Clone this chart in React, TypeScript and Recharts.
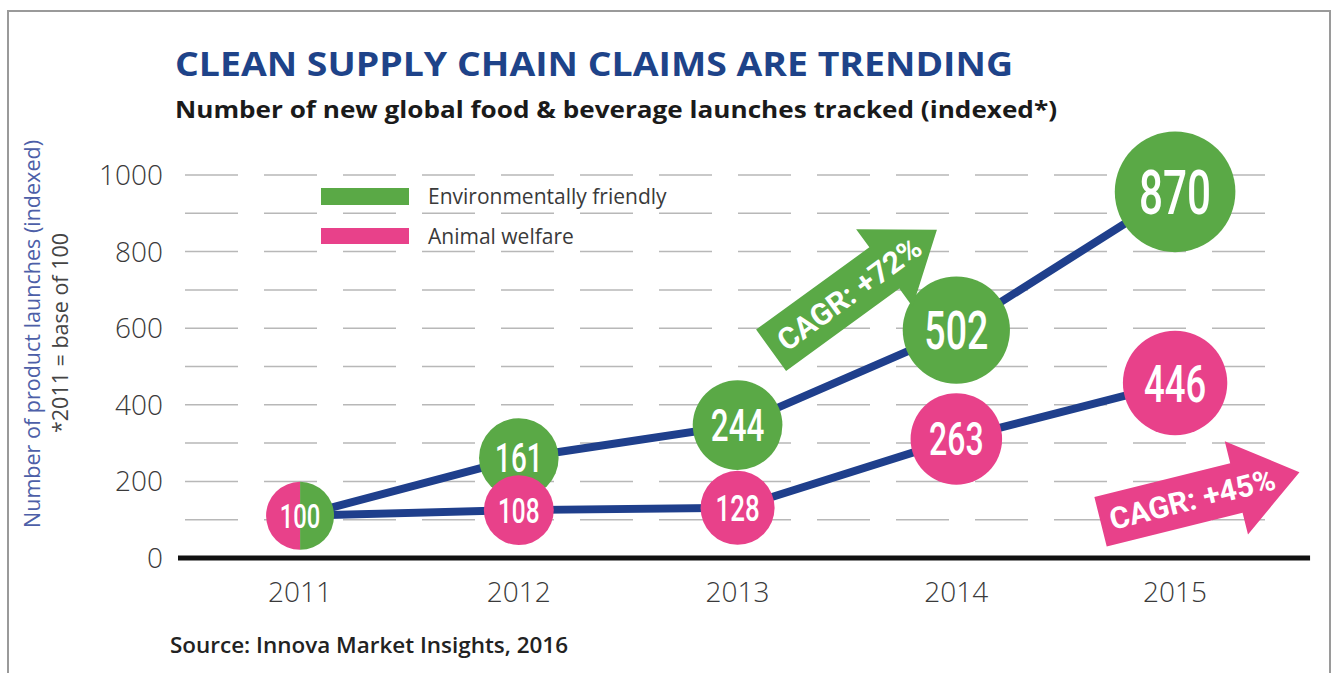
import React from 'react';
import { ComposedChart, Line, Scatter, XAxis, YAxis, CartesianGrid, ReferenceLine } from 'recharts';

// years on the x axis
const years = [2011, 2012, 2013, 2014, 2015];
const yearLabels = ['2011', '2012', '2013', '2014', '2015'];

// numbers printed in the bubbles
const envLabels = [100, 161, 244, 502, 870];
const animalLabels = [100, 108, 128, 263, 446];

// where the bubbles sit (the infographic is not drawn to scale)
const envPlotted = [110, 261, 347, 595, 956];
const animalPlotted = [110, 125, 131, 311, 457];

const yTicks = [0, 100, 200, 300, 400, 500, 600, 700, 800, 900, 1000];
const seriesNames = ['Environmentally friendly', 'Animal welfare'];
const cagrLabels = ['CAGR: +72%', 'CAGR: +45%'];

const GREEN = '#5aa946';
const PINK = '#e8418a';
const NAVY = '#1f3f8c';
const CONDENSED = "Roboto, 'DejaVu Sans', sans-serif";
const SANS = "'Open Sans', 'Noto Sans', sans-serif";

const data = years.map((year, i) => ({
  year,
  env: envPlotted[i],
  animal: animalPlotted[i],
  envLabel: envLabels[i],
  animalLabel: animalLabels[i],
}));

const radiusFor = (v: number) => 34 + 28 * Math.log10(v / 100);

// no condensed font installed, so squeeze a regular one horizontally
const bubbleText = (cx: number, cy: number, r: number, value: number) => (
  <g transform={`translate(${cx},${cy}) scale(0.7,1)`}>
    <text x={0} y={0} dy="0.36em" textAnchor="middle" fill="#fff" fontFamily={CONDENSED} fontWeight={500} fontSize={r * 1.0}>
      {value}
    </text>
  </g>
);

const envShape = (props: any) => {
  const { cx, cy, payload } = props;
  const r = radiusFor(payload.envLabel);
  if (payload.year === years[0]) {
    // right half of the shared 2011 bubble
    return <path d={`M${cx},${cy - r} A${r},${r} 0 0 1 ${cx},${cy + r} Z`} fill={GREEN} />;
  }
  return (
    <g>
      <circle cx={cx} cy={cy} r={r} fill={GREEN} />
      {bubbleText(cx, cy, r, payload.envLabel)}
    </g>
  );
};

const animalShape = (props: any) => {
  const { cx, cy, payload } = props;
  const r = radiusFor(payload.animalLabel);
  if (payload.year === years[0]) {
    return (
      <g>
        <path d={`M${cx},${cy - r} A${r},${r} 0 0 0 ${cx},${cy + r} Z`} fill={PINK} />
        {bubbleText(cx, cy, r, payload.animalLabel)}
      </g>
    );
  }
  return (
    <g>
      <circle cx={cx} cy={cy} r={r} fill={PINK} />
      {bubbleText(cx, cy, r, payload.animalLabel)}
    </g>
  );
};

// block arrow centred on (x, y), pointing along angle
const Arrow = ({ x, y, angle, color, label, textShift = 0 }: any) => {
  const L = 205, sw = 51, hw = 96, hl = 65;
  const pts = [
    [-L / 2, -sw / 2], [L / 2 - hl, -sw / 2], [L / 2 - hl, -hw / 2], [L / 2, 0],
    [L / 2 - hl, hw / 2], [L / 2 - hl, sw / 2], [-L / 2, sw / 2],
  ].map((p) => p.join(',')).join(' ');
  return (
    <g transform={`translate(${x},${y}) rotate(${angle})`}>
      <polygon points={pts} fill={color} />
      <text x={textShift} y={0} dy="0.36em" textAnchor="middle" fill="#fff" fontFamily={CONDENSED} fontWeight={700} fontSize={30} textLength={170} lengthAdjust="spacingAndGlyphs">
        {label}
      </text>
    </g>
  );
};

export default function App() {
  return (
    <div style={{ position: 'absolute', left: 0, top: 0, width: 1332, height: 673, background: '#fff', overflow: 'hidden' }}>
      <ComposedChart width={1332} height={673} data={data} margin={{ top: 175, right: 67, bottom: 85, left: 125 }}>
        <CartesianGrid vertical={false} stroke="#b8b8b8" strokeWidth={1.5} strokeDasharray="53 26" />
        <XAxis
          type="number"
          dataKey="year"
          domain={[2010.474, 2015.411]}
          ticks={years}
          tickFormatter={(v: number) => yearLabels[years.indexOf(v)]}
          axisLine={false}
          tickLine={false}
          tickSize={0}
          tickMargin={24}
          height={30}
          tick={{ fontSize: 28, fill: '#3a3a3a', fontFamily: SANS, fontWeight: 300 }}
        />
        <YAxis
          type="number"
          domain={[0, 1000]}
          ticks={yTicks}
          tickFormatter={(v: number) => (v % 200 === 0 ? String(v) : '')}
          axisLine={false}
          tickLine={false}
          tickSize={0}
          tickMargin={22}
          width={60}
          tick={{ fontSize: 28, fill: '#3a3a3a', fontFamily: SANS, fontWeight: 300 }}
        />
        <ReferenceLine
          segment={[{ x: 2010.442, y: 0 }, { x: 2015.617, y: 0 }]}
          stroke="#111"
          strokeWidth={5}
          ifOverflow="visible"
        />
        <Line type="linear" dataKey="env" stroke={NAVY} strokeWidth={8} dot={false} activeDot={false} isAnimationActive={false} />
        <Line type="linear" dataKey="animal" stroke={NAVY} strokeWidth={8} dot={false} activeDot={false} isAnimationActive={false} />
        <Scatter dataKey="env" shape={envShape} isAnimationActive={false} />
        <Scatter dataKey="animal" shape={animalShape} isAnimationActive={false} />
      </ComposedChart>

      <svg width={1332} height={673} style={{ position: 'absolute', left: 0, top: 0, pointerEvents: 'none' }}>
        <rect x={8} y={11} width={1322} height={720} fill="none" stroke="#9a9a9a" strokeWidth={2} />
        <text x={175} y={76} fontFamily={SANS} fontWeight={700} fontSize={34} fill="#1e4389" textLength={838} lengthAdjust="spacingAndGlyphs">
          CLEAN SUPPLY CHAIN CLAIMS ARE TRENDING
        </text>
        <text x={175} y={118} fontFamily={SANS} fontWeight={700} fontSize={23} fill="#1a1a1a" textLength={882} lengthAdjust="spacingAndGlyphs">
          Number of new global food &amp; beverage launches tracked (indexed*)
        </text>

        <text transform="translate(32,334) rotate(-90)" textAnchor="middle" dy="0.36em" fontFamily={SANS} fontSize={21} fill="#4d5fa8" textLength={388} lengthAdjust="spacingAndGlyphs">
          Number of product launches (indexed)
        </text>
        <text transform="translate(60,333) rotate(-90)" textAnchor="middle" dy="0.36em" fontFamily={SANS} fontSize={21} fill="#444" textLength={200} lengthAdjust="spacingAndGlyphs">
          *2011 = base of 100
        </text>

        <rect x={321} y={188} width={88} height={17} fill={GREEN} />
        <text x={428} y={196} dy="0.36em" fontFamily={SANS} fontSize={21} fill="#3a3a3a">{seriesNames[0]}</text>
        <rect x={321} y={228} width={88} height={16} fill={PINK} />
        <text x={428} y={236} dy="0.36em" fontFamily={SANS} fontSize={21} fill="#3a3a3a">{seriesNames[1]}</text>

        <Arrow x={854} y={290} angle={-36} color={GREEN} label={cagrLabels[0]} textShift={-6} />
        <Arrow x={1200} y={497} angle={-14} color={PINK} label={cagrLabels[1]} textShift={-8} />

        <text x={170} y={653} fontFamily={SANS} fontWeight={600} fontSize={21} fill="#222" textLength={398} lengthAdjust="spacingAndGlyphs">
          Source: Innova Market Insights, 2016
        </text>
      </svg>
    </div>
  );
}
